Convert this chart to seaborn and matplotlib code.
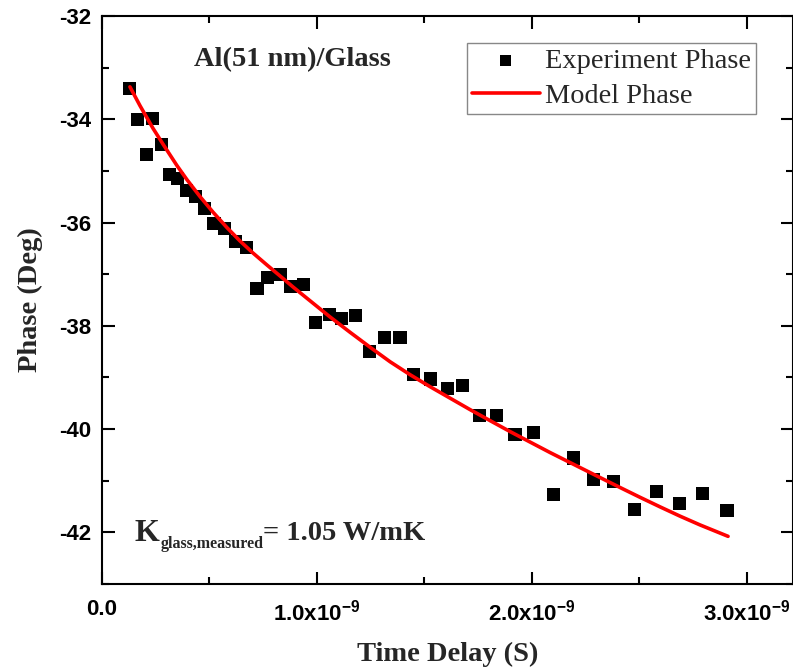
import matplotlib
matplotlib.use("Agg")
import matplotlib.pyplot as plt
import matplotlib.ticker as mticker
import seaborn as sns
import pandas as pd

# ---- data (time delay in units of 1e-9 s, phase in degrees) ----
exp_time = [0.126, 0.163, 0.205, 0.237, 0.279, 0.312, 0.349, 0.391, 0.437, 0.479,
            0.521, 0.572, 0.619, 0.670, 0.721, 0.772, 0.828, 0.879, 0.935, 0.995,
            1.056, 1.116, 1.181, 1.242, 1.316, 1.386, 1.451, 1.526, 1.605, 1.679,
            1.758, 1.837, 1.921, 2.009, 2.098, 2.191, 2.284, 2.381, 2.479, 2.581,
            2.688, 2.791, 2.907]
exp_phase = [-33.41, -34.01, -34.69, -33.99, -34.49, -35.07, -35.15, -35.38, -35.50, -35.73,
             -36.02, -36.12, -36.37, -36.48, -37.28, -37.06, -37.00, -37.24, -37.20, -37.93,
             -37.78, -37.86, -37.80, -38.49, -38.22, -38.22, -38.94, -39.03, -39.21, -39.15,
             -39.73, -39.73, -40.10, -40.06, -41.26, -40.56, -40.97, -41.02, -41.55, -41.20,
             -41.45, -41.24, -41.57]

model_time = [0.130, 0.177, 0.237, 0.284, 0.349, 0.395, 0.456, 0.516, 0.581, 0.642,
              0.702, 0.767, 0.828, 0.888, 0.954, 1.014, 1.060, 1.154, 1.247, 1.340,
              1.433, 1.526, 1.619, 1.712, 1.805, 1.898, 1.991, 2.084, 2.223, 2.316,
              2.409, 2.502, 2.595, 2.688, 2.781, 2.912]
model_phase = [-33.372, -33.739, -34.174, -34.483, -34.899, -35.169, -35.498, -35.797, -36.097, -36.357,
               -36.589, -36.821, -37.034, -37.246, -37.469, -37.671, -37.826, -38.126, -38.415, -38.696,
               -38.947, -39.179, -39.401, -39.623, -39.836, -40.048, -40.251, -40.454, -40.744, -40.937,
               -41.130, -41.320, -41.505, -41.685, -41.855, -42.077]

x_ticks = [0.0, 1.0, 2.0, 3.0]
x_tick_labels = ["0.0", r"1.0x10$^{\mathbf{-9}}$", r"2.0x10$^{\mathbf{-9}}$", r"3.0x10$^{\mathbf{-9}}$"]
y_ticks = [-32, -34, -36, -38, -40, -42]

exp_df = pd.DataFrame({"t": [v * 1e-9 for v in exp_time], "phase": exp_phase})
model_df = pd.DataFrame({"t": [v * 1e-9 for v in model_time], "phase": model_phase})

sns.set_style("ticks")
plt.rcParams["axes.unicode_minus"] = False
plt.rcParams["mathtext.fontset"] = "custom"
plt.rcParams["mathtext.bf"] = "Liberation Sans:bold"
plt.rcParams["mathtext.rm"] = "Liberation Sans:bold"
plt.rcParams["font.family"] = ["Liberation Sans", "DejaVu Sans"]

fig = plt.figure(figsize=(7.93, 6.72), dpi=100)
ax = fig.add_axes([102 / 793, 88 / 672, 691 / 793, 568 / 672])

sns.scatterplot(data=exp_df, x="t", y="phase", ax=ax, marker="s", s=88,
                color="black", edgecolor="none", linewidth=0, label="Experiment Phase", zorder=3)
sns.lineplot(data=model_df, x="t", y="phase", ax=ax, color="#ff0000", linewidth=2.6,
             label="Model Phase", zorder=4, sort=False)

ax.set_xlim(0, 3.214e-9)
ax.set_ylim(-43, -32)

ax.set_xticks([v * 1e-9 for v in x_ticks])
ax.set_xticklabels(x_tick_labels)
ax.xaxis.set_minor_locator(mticker.MultipleLocator(0.5e-9))
ax.set_yticks(y_ticks)
ax.set_yticklabels([str(v) for v in y_ticks])
ax.yaxis.set_minor_locator(mticker.MultipleLocator(1))

for s in ax.spines.values():
    s.set_linewidth(1.5)
    s.set_color("black")

ax.tick_params(which="both", direction="in", top=True, right=True, width=1.5, color="black")
ax.tick_params(which="major", length=9)
ax.tick_params(which="minor", length=5)
ax.tick_params(axis="x", which="major", pad=11)
ax.tick_params(axis="y", which="major", pad=8)
for lab in ax.get_xticklabels() + ax.get_yticklabels():
    lab.set_fontfamily("Liberation Sans")
    lab.set_fontweight("bold")
    lab.set_fontsize(16)
    lab.set_color("black")

serif = "Liberation Serif"
ax.set_xlabel("Time Delay (S)", fontfamily=serif, fontweight="bold", fontsize=20.5, labelpad=12)
ax.set_ylabel("Phase (Deg)", fontfamily=serif, fontweight="bold", fontsize=20.5, labelpad=11)

leg = ax.legend(loc="upper right", bbox_to_anchor=(0.947, 0.952), borderaxespad=0,
                prop={"family": serif, "size": 20.4}, frameon=True, fancybox=False,
                edgecolor="#888888", framealpha=1, labelspacing=0.3, handlelength=2.4,
                handletextpad=0.2, borderpad=0.18, markerscale=0.85)
leg.get_frame().set_linewidth(1.0)

ax.text(0.884e-9, -32.85, "Al(51 nm)/Glass", fontfamily=serif, fontweight="bold",
        fontsize=20.5, ha="center", va="center")

t1 = ax.text(0.153e-9, -42.16, "K", fontfamily=serif, fontweight="bold",
             fontsize=23, ha="left", va="baseline")
t2 = ax.annotate("glass,measured", xy=(1, 0), xycoords=t1, xytext=(0.5, -0.5),
                 textcoords="offset points", fontfamily=serif, fontweight="bold",
                 fontsize=11.5, ha="left", va="baseline")
t3 = ax.annotate("= 1.05 W/mK", xy=(1, 0), xycoords=(t2, t1), xytext=(0, 1),
                 textcoords="offset points", fontfamily=serif, fontweight="bold",
                 fontsize=20.5, ha="left", va="bottom")

fig.savefig("out.png", dpi=100)
